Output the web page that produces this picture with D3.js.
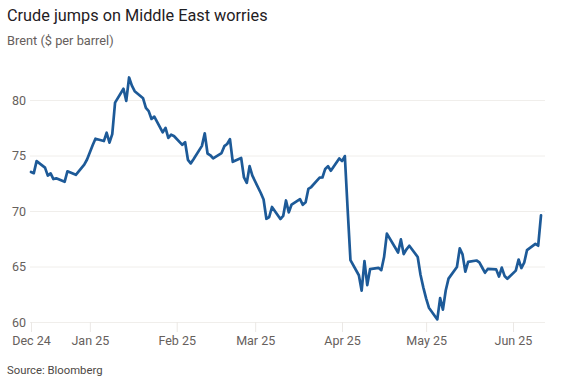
<!DOCTYPE html>
<html>
<head>
<meta charset="utf-8">
<script src="https://cdn.jsdelivr.net/npm/d3@7"></script>
<style>
  html, body { margin: 0; padding: 0; background: #ffffff; }
  svg { display: block; }
  text { font-family: Roboto, "Noto Sans", sans-serif; }
</style>
</head>
<body>
<svg id="chart" width="570" height="382"></svg>
<script>
// ---- data ----
const dates = [
  "2024-12-11","2024-12-12","2024-12-13","2024-12-16","2024-12-17","2024-12-18","2024-12-19","2024-12-20",
  "2024-12-23","2024-12-24","2024-12-27","2024-12-30","2024-12-31",
  "2025-01-02","2025-01-03","2025-01-06","2025-01-07","2025-01-08","2025-01-09","2025-01-10",
  "2025-01-13","2025-01-14","2025-01-15","2025-01-16","2025-01-17","2025-01-20","2025-01-21",
  "2025-01-22","2025-01-23","2025-01-24","2025-01-27","2025-01-28","2025-01-29","2025-01-30","2025-01-31",
  "2025-02-03","2025-02-04","2025-02-05","2025-02-06","2025-02-07","2025-02-10","2025-02-11",
  "2025-02-12","2025-02-13","2025-02-14","2025-02-17","2025-02-18","2025-02-19","2025-02-20",
  "2025-02-21","2025-02-24","2025-02-25","2025-02-26","2025-02-27","2025-02-28",
  "2025-03-03","2025-03-04","2025-03-05","2025-03-06","2025-03-07","2025-03-10","2025-03-11",
  "2025-03-12","2025-03-13","2025-03-14","2025-03-17","2025-03-18","2025-03-19","2025-03-20",
  "2025-03-21","2025-03-24","2025-03-25","2025-03-26","2025-03-27","2025-03-28","2025-03-31",
  "2025-04-01","2025-04-02","2025-04-03","2025-04-04","2025-04-07","2025-04-08","2025-04-09",
  "2025-04-10","2025-04-11","2025-04-14","2025-04-15","2025-04-16","2025-04-17","2025-04-21",
  "2025-04-22","2025-04-23","2025-04-24","2025-04-25","2025-04-28","2025-04-29","2025-04-30",
  "2025-05-01","2025-05-02","2025-05-05","2025-05-06","2025-05-07","2025-05-08","2025-05-09",
  "2025-05-12","2025-05-13","2025-05-14","2025-05-15","2025-05-16","2025-05-19","2025-05-20",
  "2025-05-21","2025-05-22","2025-05-23","2025-05-26","2025-05-27","2025-05-28","2025-05-29","2025-05-30",
  "2025-06-02","2025-06-03","2025-06-04","2025-06-05","2025-06-06","2025-06-09","2025-06-10","2025-06-11"
];
const brent = [
  73.52,73.41,74.49,73.91,73.19,73.39,72.88,72.94,
  72.63,73.58,73.26,74.17,74.64,
  75.93,76.51,76.30,77.05,76.16,76.92,79.76,
  81.01,79.92,82.03,81.29,80.79,80.15,79.29,
  79.00,78.29,78.50,77.08,77.49,76.58,76.87,76.76,
  75.96,76.20,74.61,74.29,74.66,75.87,77.00,
  75.18,75.02,74.74,75.22,75.84,76.04,76.48,
  74.43,74.78,73.02,72.53,74.04,73.18,
  71.62,71.04,69.30,69.46,70.36,69.28,69.56,
  70.95,69.88,70.58,71.07,70.56,70.78,72.00,
  72.16,73.00,73.02,73.79,74.03,73.63,74.74,
  74.49,74.95,70.14,65.58,64.21,62.82,65.48,
  63.33,64.76,64.88,64.67,65.85,67.96,66.26,
  67.44,66.12,66.55,66.87,65.86,64.25,63.12,
  62.13,61.29,60.23,62.15,61.12,62.84,63.91,
  64.96,66.63,66.09,64.53,65.41,65.54,65.38,
  64.91,64.44,64.78,64.74,64.09,64.90,64.15,63.90,
  64.63,65.63,64.86,65.34,66.47,67.04,66.87,69.60
];
const xTickDates = ["2024-12-11","2025-01-01","2025-02-01","2025-03-01","2025-04-01","2025-05-01","2025-06-01"];
const xTickLabels = ["Dec 24","Jan 25","Feb 25","Mar 25","Apr 25","May 25","Jun 25"];
const yTicks = [60, 65, 70, 75, 80];

const titleText = "Crude jumps on Middle East worries";
const subtitleText = "Brent ($ per barrel)";
const sourceText = "Source: Bloomberg";

// ---- drawing ----
const parse = d3.timeParse("%Y-%m-%d");
const data = dates.map((d, i) => ({ date: parse(d), value: brent[i] }));

const svg = d3.select("#chart");
const plotLeft = 30, plotRight = 545;
const FONT = "Roboto, 'Noto Sans', sans-serif";

const x = d3.scaleTime()
  .domain([parse(dates[0]), parse(dates[dates.length - 1])])
  .range([31, 541]);
const y = d3.scaleLinear().domain([60, 80]).range([322, 100]);

// title / subtitle
svg.append("text").attr("x", 7).attr("y", 21)
  .attr("font-size", 16.3).attr("fill", "#1f2024").text(titleText);
svg.append("text").attr("x", 7).attr("y", 45)
  .attr("font-size", 12.8).attr("fill", "#66605c").text(subtitleText);

// y axis with gridlines
const yAxis = svg.append("g")
  .attr("transform", `translate(${plotLeft},0)`)
  .call(d3.axisLeft(y).tickValues(yTicks).tickSize(-(plotRight - plotLeft)).tickFormat(d3.format("d")));
yAxis.select(".domain").remove();
yAxis.selectAll(".tick line").attr("stroke", "#f0eeeb").attr("stroke-width", 1);
yAxis.selectAll(".tick text")
  .attr("x", -18).attr("text-anchor", "start")
  .attr("font-size", 12.5).attr("fill", "#66605c")
  .style("font-family", FONT);

// x axis
const xAxis = svg.append("g")
  .attr("transform", "translate(0,322)")
  .call(d3.axisBottom(x)
    .tickValues(xTickDates.map(parse))
    .tickSize(10).tickPadding(4)
    .tickFormat((d, i) => xTickLabels[i]));
xAxis.select(".domain").remove();
xAxis.selectAll(".tick line").attr("stroke", "#ebe8e5").attr("stroke-width", 1);
xAxis.selectAll(".tick text")
  .attr("font-size", 12.5).attr("fill", "#66605c")
  .style("font-family", FONT);

// line
const line = d3.line().x(d => x(d.date)).y(d => y(d.value)).curve(d3.curveLinear);
svg.append("path").datum(data)
  .attr("d", line)
  .attr("fill", "none")
  .attr("stroke", "#1d5a98")
  .attr("stroke-width", 2.7)
  .attr("stroke-linejoin", "round")
  .attr("stroke-linecap", "round");

// source
svg.append("text").attr("x", 7).attr("y", 374)
  .attr("font-size", 11.3).attr("fill", "#4d4845").text(sourceText);
</script>
</body>
</html>
